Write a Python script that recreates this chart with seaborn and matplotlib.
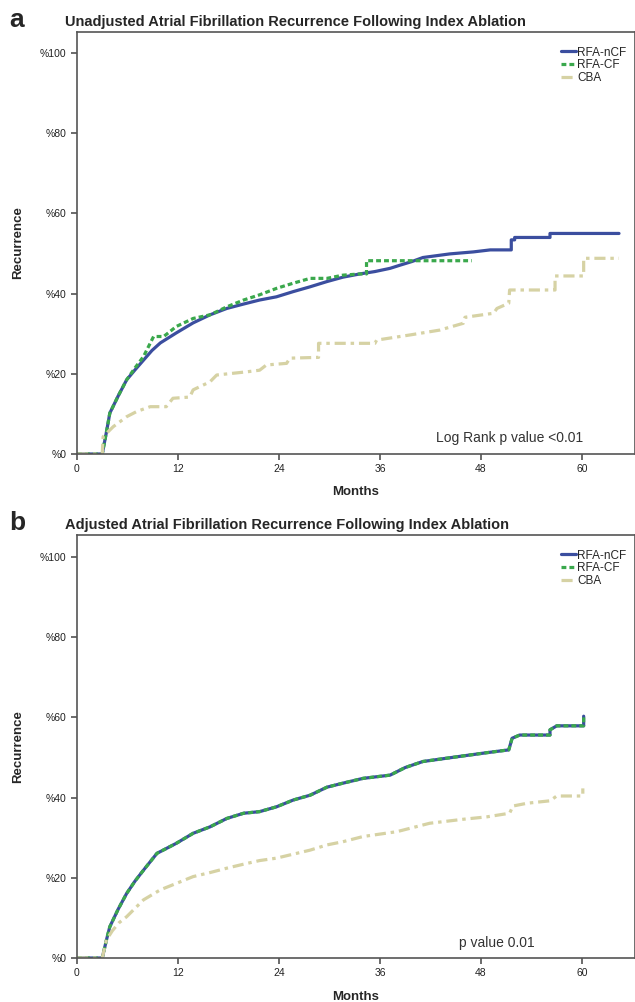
import matplotlib
matplotlib.use("Agg")
import matplotlib.pyplot as plt
import seaborn as sns
import pandas as pd

# Panel a (unadjusted) - months / cumulative recurrence %
a_ncf_months = [0, 3, 3.5, 3.9, 4.9, 5.9, 6.9, 7.9, 8.9, 9.9, 11.8, 13.8, 15.8, 17.8, 19.8,
                21.7, 23.7, 25.7, 27.7, 29.7, 31.6, 33.6, 35.4, 37.2, 38.4, 39.8, 41.1,
                44.3, 47.1, 49.1, 51.6, 51.6, 52.0, 52.0, 56.2, 56.2, 64.4]
a_ncf_values = [0, 0, 5.5, 10.2, 14.5, 18.5, 21.0, 23.4, 25.8, 27.7, 30.2, 32.7, 34.7, 36.3, 37.4,
                38.4, 39.2, 40.5, 41.7, 43.0, 44.1, 44.9, 45.5, 46.3, 47.1, 48.0, 49.0,
                49.9, 50.4, 50.9, 50.9, 53.4, 53.4, 54.0, 54.0, 55.0, 55.0]

a_cf_months = [0, 3, 3.5, 3.9, 4.9, 5.9, 6.9, 7.9, 9.1, 10.3, 11.8, 13.8, 15.8, 17.8, 19.8,
               21.7, 23.7, 25.7, 27.7, 29.7, 31.6, 33.6, 34.4, 34.4, 46.9]
a_cf_values = [0, 0, 5.5, 10.2, 14.5, 18.5, 21.5, 24.3, 29.3, 29.3, 31.8, 33.8, 34.7, 36.7, 38.4,
               39.7, 41.3, 42.6, 43.8, 43.8, 44.6, 44.9, 44.9, 48.2, 48.2]

a_cba_months = [0, 3, 3.1, 4.3, 5.9, 7.1, 8.7, 10.6, 11.4, 13.4, 13.8, 15.8, 16.6, 20.2, 21.7,
                22.5, 24.9, 25.3, 28.7, 28.7, 35.4, 35.6, 39.6, 43.1, 45.9, 46.1, 49.5, 49.9,
                51.3, 51.4, 56.8, 56.8, 60.2, 60.2, 64.4]
a_cba_values = [0, 0, 4.3, 6.8, 9.3, 10.6, 11.8, 11.8, 13.9, 14.2, 16.0, 18.0, 19.7, 20.5, 20.9,
                22.2, 22.6, 23.9, 24.1, 27.6, 27.6, 28.4, 29.7, 30.9, 32.6, 34.1, 35.1, 36.3,
                37.6, 40.9, 40.9, 44.4, 44.4, 48.8, 48.8]

# Panel b (adjusted) - the two RF curves lie on top of each other
b_ncf_months = [0, 3, 3.5, 3.9, 4.9, 5.9, 6.9, 7.9, 9.5, 11.8, 13.8, 15.8, 17.8, 19.8, 21.7,
                23.7, 25.7, 27.7, 29.7, 31.6, 34.0, 37.2, 39.0, 41.1, 43.5, 45.9, 48.7, 51.3,
                51.7, 52.6, 56.2, 56.2, 57.0, 60.2, 60.2]
b_ncf_values = [0, 0, 4.5, 7.8, 12.2, 16.1, 19.2, 21.9, 26.1, 28.6, 31.1, 32.7, 34.8, 36.1, 36.5,
                37.7, 39.4, 40.6, 42.6, 43.6, 44.8, 45.6, 47.5, 49.0, 49.7, 50.4, 51.2, 51.9,
                54.8, 55.6, 55.6, 56.9, 57.9, 57.9, 60.3]
b_cf_months = list(b_ncf_months)
b_cf_values = list(b_ncf_values)

b_cba_months = [0, 3, 3.5, 4.2, 5.0, 5.9, 7.9, 9.9, 11.8, 13.8, 15.8, 17.8, 19.8, 21.7, 23.7,
                25.7, 27.7, 29.7, 31.6, 34.0, 38.0, 41.9, 45.9, 48.7, 51.4, 51.8, 53.5, 56.2,
                57.0, 60.1, 60.1]
b_cba_values = [0, 0, 4.5, 6.8, 8.8, 10.3, 14.5, 17.0, 18.6, 20.3, 21.3, 22.4, 23.4, 24.3, 24.9,
                25.9, 26.9, 28.2, 29.0, 30.3, 31.5, 33.6, 34.6, 35.2, 36.1, 37.9, 38.6, 39.2,
                40.4, 40.4, 42.3]

groups = ["RFA-nCF", "RFA-CF", "CBA"]
x_ticks = [0, 12, 24, 36, 48, 60]
y_ticks = [0, 20, 40, 60, 80, 100]
y_ticklabels = ["%0", "%20", "%40", "%60", "%80", "%100"]

colors = {"RFA-nCF": "#3b4e9f", "RFA-CF": "#3aa84c", "CBA": "#d6d2a4"}
styles = {"RFA-nCF": dict(lw=2.3),
          "RFA-CF": dict(lw=2.3, dashes=(3.5, 2.2)),
          "CBA": dict(lw=2.3, dashes=(8, 3.5, 2.5, 3.5))}

sns.set_style("ticks")
plt.rcParams['font.family'] = ['Liberation Sans', 'DejaVu Sans']
plt.rcParams['lines.scale_dashes'] = False

W, H = 635, 1002
fig = plt.figure(figsize=(W / 100, H / 100), dpi=100)


def draw_panel(top_px, bottom_px, series, title, letter, note, note_xy):
    ax = fig.add_axes([77 / W, 1 - bottom_px / H, 558 / W, (bottom_px - top_px) / H])
    for name in groups:
        months, values = series[name]
        df = pd.DataFrame({"Months": months, "Recurrence": values})
        sns.lineplot(data=df, x="Months", y="Recurrence", ax=ax, estimator=None, sort=False,
                     color=colors[name], label=name, **styles[name])
    ax.set_xlim(0, 66.3)
    ax.set_ylim(0, (bottom_px - top_px) / 4.01)
    ax.set_xticks(x_ticks)
    ax.set_yticks(y_ticks)
    ax.set_yticklabels(y_ticklabels)
    ax.tick_params(labelsize=7.5, length=4, width=1.1, color="#444", labelcolor="#222")
    for sp in ax.spines.values():
        sp.set_color("#555")
        sp.set_linewidth(1.2)
    ax.set_xlabel("Months", fontsize=9.5, fontweight="bold")
    ax.set_ylabel("Recurrence", fontsize=9.5, fontweight="bold")
    ax.xaxis.set_label_coords(0.5, -0.077)
    ax.yaxis.set_label_coords(-0.095, 0.5)
    ax.legend(loc="upper right", bbox_to_anchor=(1.0, 0.985), frameon=False, fontsize=8.5,
              handlelength=1.3, handletextpad=0.1, labelspacing=0.05, borderpad=0.2)
    ax.text(note_xy[0], note_xy[1], note, ha="right", va="center", fontsize=10, color="#333")
    fig.text(65 / W, 1 - (top_px - 10) / H, title, fontsize=10.5, fontweight="bold",
             ha="left", va="center")
    fig.text(9 / W, 1 - (top_px - 12) / H, letter, fontsize=19, fontweight="bold",
             ha="left", va="center")
    return ax


draw_panel(32, 454,
           {"RFA-nCF": (a_ncf_months, a_ncf_values), "RFA-CF": (a_cf_months, a_cf_values),
            "CBA": (a_cba_months, a_cba_values)},
           "Unadjusted Atrial Fibrillation Recurrence Following Index Ablation", "a",
           "Log Rank p value <0.01", (60.1, 4.0))

draw_panel(535, 958,
           {"RFA-nCF": (b_ncf_months, b_ncf_values), "RFA-CF": (b_cf_months, b_cf_values),
            "CBA": (b_cba_months, b_cba_values)},
           "Adjusted Atrial Fibrillation Recurrence Following Index Ablation", "b",
           "p value 0.01", (54.4, 3.7))

fig.savefig("out.png", dpi=100)
